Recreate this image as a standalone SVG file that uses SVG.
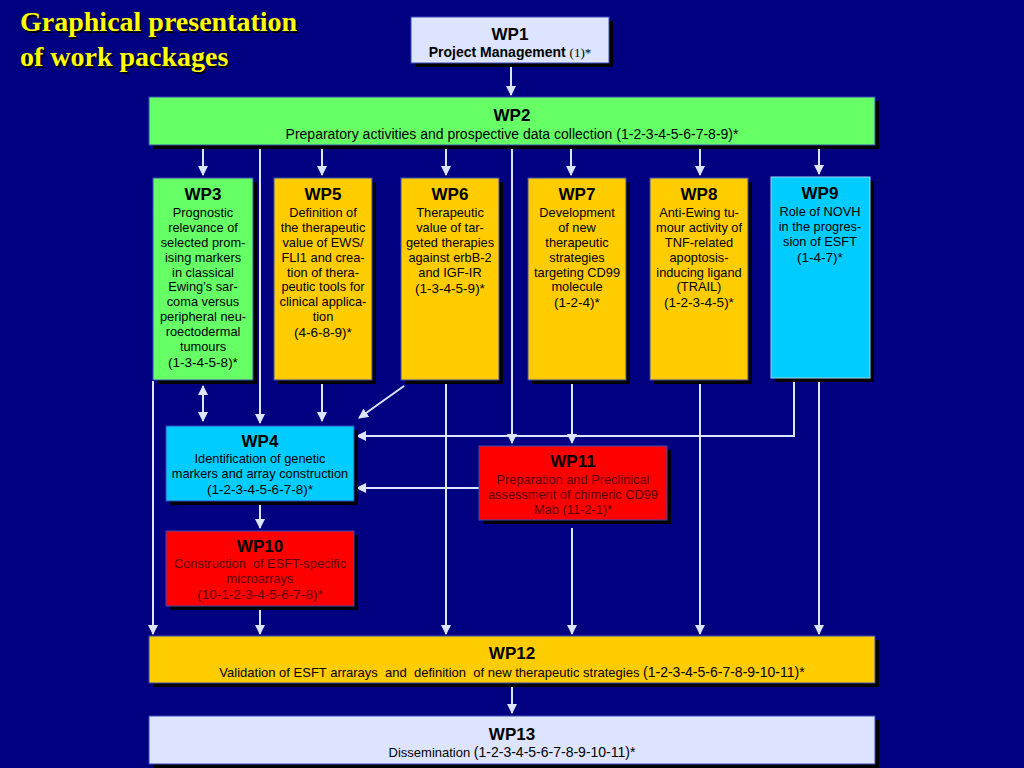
<svg xmlns="http://www.w3.org/2000/svg" width="1024" height="768" viewBox="0 0 1024 768">
<style>
.bg{fill:#000080}
.sh{fill:#000000}
.box{stroke:#3a4ab8;stroke-width:1}
.light{fill:#DDE4FF}
.green{fill:#66FF66}
.gold{fill:#FFCC00}
.cyan{fill:#00CCFF}
.red{fill:#FF0000}
.t{font-family:"Liberation Sans",Arial,sans-serif;text-anchor:middle;fill:#000}
.h{font-size:17px;font-weight:bold}
.b{font-size:12.8px}
.n{font-size:13.5px}
.w{font-size:13px}
.dr{fill:#5a0000}
.title{font-family:"Liberation Serif","Times New Roman",serif;font-weight:bold;font-size:28px;fill:#FFFF00}
.tsh{font-family:"Liberation Serif","Times New Roman",serif;font-weight:bold;font-size:28px;fill:#000}
.c{fill:none;stroke:#DDE4FF;stroke-width:2}
</style>
<defs>
<marker id="ah" viewBox="0 0 10 10" refX="9" refY="5" markerWidth="10" markerHeight="10" markerUnits="userSpaceOnUse" orient="auto-start-reverse">
<path d="M0,0 L10,5 L0,10 z" fill="#DDE4FF"/>
</marker>
</defs>
<rect class="bg" x="0" y="0" width="1024" height="768"/>

<g id="title">
<text class="tsh" x="22" y="33">Graphical presentation</text>
<text class="tsh" x="22" y="68">of work packages</text>
<text class="title" x="20" y="31">Graphical presentation</text>
<text class="title" x="20" y="66">of work packages</text>
</g>

<g id="connectors">
<path class="c" d="M511,64 V95" marker-end="url(#ah)"/>
<path class="c" d="M203,146 V175" marker-end="url(#ah)"/>
<path class="c" d="M322,146 V175" marker-end="url(#ah)"/>
<path class="c" d="M446,146 V175" marker-end="url(#ah)"/>
<path class="c" d="M571,146 V175" marker-end="url(#ah)"/>
<path class="c" d="M700,146 V175" marker-end="url(#ah)"/>
<path class="c" d="M819,146 V174" marker-end="url(#ah)"/>
<path class="c" d="M260,146 V423" marker-end="url(#ah)"/>
<path class="c" d="M512,146 V443" marker-end="url(#ah)"/>
<path class="c" d="M203,386 V421" marker-start="url(#ah)" marker-end="url(#ah)"/>
<path class="c" d="M322,381 V421" marker-end="url(#ah)"/>
<path class="c" d="M404,386 L359,418" marker-end="url(#ah)"/>
<path class="c" d="M794,379 V436 H357" marker-end="url(#ah)"/>
<path class="c" d="M479,488 H357" marker-end="url(#ah)"/>
<path class="c" d="M572,381 V443" marker-end="url(#ah)"/>
<path class="c" d="M260,502 V528" marker-end="url(#ah)"/>
<path class="c" d="M153,381 V634" marker-end="url(#ah)"/>
<path class="c" d="M260,607 V634" marker-end="url(#ah)"/>
<path class="c" d="M446,381 V634" marker-end="url(#ah)"/>
<path class="c" d="M572,528 V634" marker-end="url(#ah)"/>
<path class="c" d="M700,381 V634" marker-end="url(#ah)"/>
<path class="c" d="M819,379 V634" marker-end="url(#ah)"/>
<path class="c" d="M512,684 V713" marker-end="url(#ah)"/>
</g>

<g id="wp1">
<rect class="sh" x="415" y="21" width="198" height="46"/>
<rect class="box light" x="411" y="17" width="198" height="46"/>
<text class="t h" x="510" y="40">WP1</text>
<text class="t" x="510" y="57" font-size="14"><tspan font-weight="bold">Project Management </tspan><tspan font-family="Liberation Serif,serif" font-size="13">(1)*</tspan></text>
</g>

<g id="wp2">
<rect class="sh" x="153" y="101" width="726" height="48"/>
<rect class="box green" x="149" y="97" width="726" height="48"/>
<text class="t h" x="512" y="121">WP2</text>
<text class="t" x="512" y="139" font-size="14">Preparatory activities and prospective data collection (1-2-3-4-5-6-7-8-9)*</text>
</g>

<g id="wp3">
<rect class="sh" x="157" y="182" width="100" height="202"/>
<rect class="box green" x="153" y="178" width="100" height="202"/>
<text class="t h" x="203" y="200">WP3</text>
<text class="t b" x="203" y="217">Prognostic</text>
<text class="t b" x="203" y="232">relevance of</text>
<text class="t b" x="203" y="247">selected prom-</text>
<text class="t b" x="203" y="262">ising markers</text>
<text class="t b" x="203" y="277">in classical</text>
<text class="t b" x="203" y="291">Ewing’s sar-</text>
<text class="t b" x="203" y="306">coma versus</text>
<text class="t b" x="203" y="321">peripheral neu-</text>
<text class="t b" x="203" y="336">roectodermal</text>
<text class="t b" x="203" y="351">tumours</text>
<text class="t n" x="203" y="367">(1-3-4-5-8)*</text>
</g>

<g id="wp5">
<rect class="sh" x="278" y="182" width="98" height="202"/>
<rect class="box gold" x="274" y="178" width="98" height="202"/>
<text class="t h" x="323" y="200">WP5</text>
<text class="t b" x="323" y="217">Definition of</text>
<text class="t b" x="323" y="232">the therapeutic</text>
<text class="t b" x="323" y="247">value of EWS/</text>
<text class="t b" x="323" y="262">FLI1 and crea-</text>
<text class="t b" x="323" y="277">tion of thera-</text>
<text class="t b" x="323" y="291">peutic tools for</text>
<text class="t b" x="323" y="306">clinical applica-</text>
<text class="t b" x="323" y="321">tion</text>
<text class="t n" x="323" y="337">(4-6-8-9)*</text>
</g>

<g id="wp6">
<rect class="sh" x="405" y="182" width="98" height="202"/>
<rect class="box gold" x="401" y="178" width="98" height="202"/>
<text class="t h" x="450" y="200">WP6</text>
<text class="t b" x="450" y="217">Therapeutic</text>
<text class="t b" x="450" y="232">value of tar-</text>
<text class="t b" x="450" y="247">geted therapies</text>
<text class="t b" x="450" y="262">against erbB-2</text>
<text class="t b" x="450" y="277">and IGF-IR</text>
<text class="t n" x="450" y="293">(1-3-4-5-9)*</text>
</g>

<g id="wp7">
<rect class="sh" x="532" y="182" width="98" height="202"/>
<rect class="box gold" x="528" y="178" width="98" height="202"/>
<text class="t h" x="577" y="200">WP7</text>
<text class="t b" x="577" y="217">Development</text>
<text class="t b" x="577" y="232">of new</text>
<text class="t b" x="577" y="247">therapeutic</text>
<text class="t b" x="577" y="262">strategies</text>
<text class="t b" x="577" y="277">targeting CD99</text>
<text class="t b" x="577" y="291">molecule</text>
<text class="t n" x="577" y="307">(1-2-4)*</text>
</g>

<g id="wp8">
<rect class="sh" x="654" y="182" width="98" height="202"/>
<rect class="box gold" x="650" y="178" width="98" height="202"/>
<text class="t h" x="699" y="200">WP8</text>
<text class="t b" x="699" y="217">Anti-Ewing tu-</text>
<text class="t b" x="699" y="232">mour activity of</text>
<text class="t b" x="699" y="247">TNF-related</text>
<text class="t b" x="699" y="262">apoptosis-</text>
<text class="t b" x="699" y="277">inducing ligand</text>
<text class="t b" x="699" y="291">(TRAIL)</text>
<text class="t n" x="699" y="307">(1-2-3-4-5)*</text>
</g>

<g id="wp9">
<rect class="sh" x="775" y="181" width="99" height="201"/>
<rect class="cyan" x="771" y="177" width="99" height="201" stroke="#9fd8ff" stroke-width="1"/>
<text class="t h" x="820" y="199">WP9</text>
<text class="t b" x="820" y="216">Role of NOVH</text>
<text class="t b" x="820" y="231">in the progres-</text>
<text class="t b" x="820" y="246">sion of ESFT</text>
<text class="t n" x="820" y="262">(1-4-7)*</text>
</g>

<g id="wp4">
<rect class="sh" x="170" y="430" width="188" height="75"/>
<rect class="box cyan" x="166" y="426" width="188" height="75"/>
<text class="t h" x="260" y="447">WP4</text>
<text class="t b" x="260" y="463">Identification of genetic</text>
<text class="t b" x="260" y="478">markers and array construction</text>
<text class="t n" x="260" y="494">(1-2-3-4-5-6-7-8)*</text>
</g>

<g id="wp11">
<rect class="sh" x="483" y="450" width="188" height="74"/>
<rect class="box red" x="479" y="446" width="188" height="74"/>
<text class="t h" x="573" y="467">WP11</text>
<text class="t b dr" x="573" y="484">Preparation and Preclinical</text>
<text class="t b dr" x="573" y="499">assessment of chimeric CD99</text>
<text class="t b dr" x="573" y="514">Mab (11-2-1)*</text>
</g>

<g id="wp10">
<rect class="sh" x="170" y="535" width="188" height="75"/>
<rect class="box red" x="166" y="531" width="188" height="75"/>
<text class="t h" x="260" y="552">WP10</text>
<text class="t b dr" x="260" y="568" xml:space="preserve">Construction  of ESFT-specific</text>
<text class="t b dr" x="260" y="583">microarrays</text>
<text class="t n dr" x="260" y="599">(10-1-2-3-4-5-6-7-8)*</text>
</g>

<g id="wp12">
<rect class="sh" x="153" y="640" width="726" height="47"/>
<rect class="box gold" x="149" y="636" width="726" height="47"/>
<text class="t h" x="512" y="659">WP12</text>
<text class="t w" x="512" y="677" xml:space="preserve">Validation of ESFT arrarays  and  definition  of new therapeutic strategies <tspan font-size="14">(1-2-3-4-5-6-7-8-9-10-11)*</tspan></text>
</g>

<g id="wp13">
<rect class="sh" x="153" y="720" width="726" height="48"/>
<rect class="box light" x="149" y="716" width="726" height="48"/>
<text class="t h" x="512" y="740">WP13</text>
<text class="t w" x="512" y="757">Dissemination <tspan font-size="14">(1-2-3-4-5-6-7-8-9-10-11)*</tspan></text>
</g>
</svg>
